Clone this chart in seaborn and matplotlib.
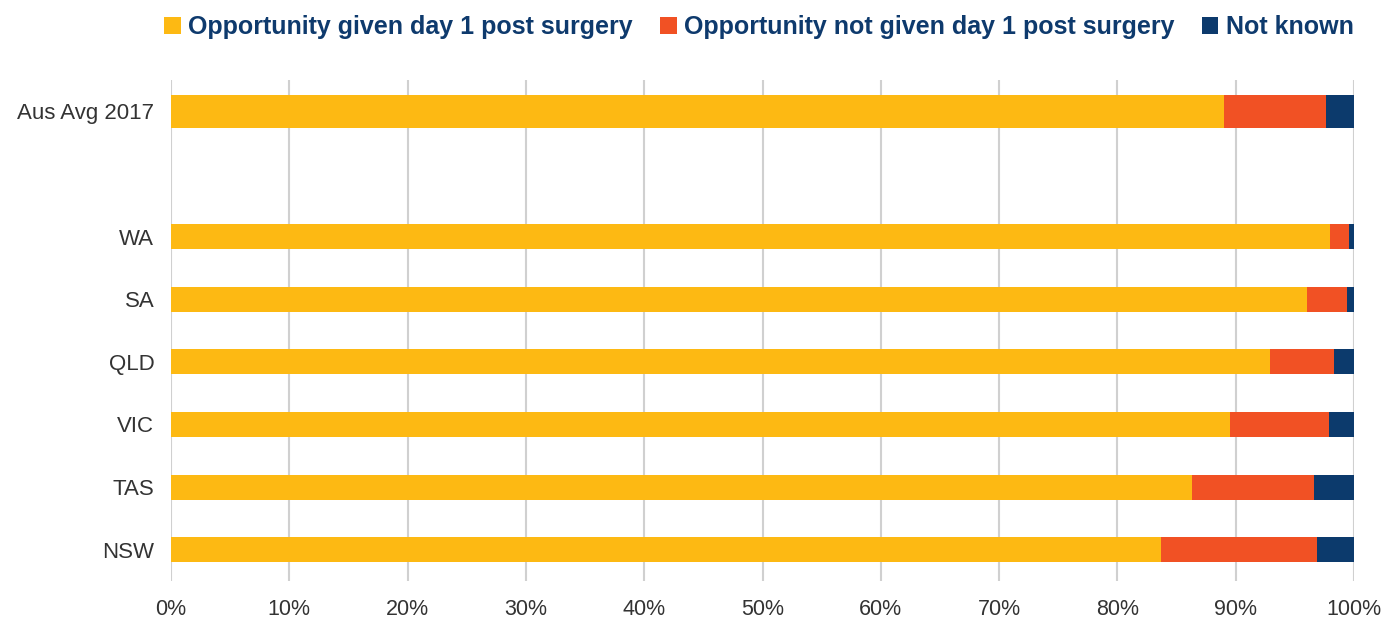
import matplotlib
matplotlib.use("Agg")
import matplotlib.pyplot as plt
import seaborn as sns
import pandas as pd
from matplotlib.patches import Patch
from matplotlib.ticker import PercentFormatter

sns.set_theme(style="white")
plt.rcParams["font.family"] = ["Liberation Sans", "DejaVu Sans"]

# Rows top to bottom; the empty label leaves a gap under the national average
categories = ["Aus Avg 2017", "", "WA", "SA", "QLD", "VIC", "TAS", "NSW"]
regions = ["Aus Avg 2017", "WA", "SA", "QLD", "VIC", "TAS", "NSW"]
given = [89.0, 98.0, 96.0, 92.9, 89.5, 86.3, 83.7]
not_given = [8.6, 1.6, 3.4, 5.4, 8.4, 10.3, 13.2]
not_known = [2.4, 0.4, 0.6, 1.7, 2.1, 3.4, 3.1]

series = ["Opportunity given day 1 post surgery",
          "Opportunity not given day 1 post surgery",
          "Not known"]
colors = ["#FDB913", "#F15124", "#0C3A6C"]
text_color = "#0E3A6D"

df = pd.DataFrame({"region": regions, "given": given,
                   "not_given": not_given, "not_known": not_known})
df["c1"] = df["given"]
df["c2"] = df["given"] + df["not_given"]
df["c3"] = df["c2"] + df["not_known"]

fig = plt.figure(figsize=(13.86, 6.19), dpi=100)
ax = fig.add_axes([171 / 1386, 1 - 581 / 619, 1183 / 1386, 501 / 619])

avg = df[df["region"] == "Aus Avg 2017"]
states = df[df["region"] != "Aus Avg 2017"]

# Stacked bars: draw cumulative totals from longest to shortest
for col, color in zip(["c3", "c2", "c1"], colors[::-1]):
    sns.barplot(data=avg, x=col, y="region", order=categories, orient="h",
                color=color, width=0.53, saturation=1, ax=ax, linewidth=0)
    sns.barplot(data=states, x=col, y="region", order=categories, orient="h",
                color=color, width=0.40, saturation=1, ax=ax, linewidth=0)

ax.set_xlim(0, 100)
ax.set_ylim(len(categories) - 0.5, -0.5)
ax.set_xticks(range(0, 101, 10))
ax.xaxis.set_major_formatter(PercentFormatter(decimals=0))
ax.grid(axis="x", color="#D0D0D0", linewidth=1.5)
ax.grid(axis="y", visible=False)
ax.set_axisbelow(True)
for s in ax.spines.values():
    s.set_visible(False)
ax.set_xlabel("")
ax.set_ylabel("")
ax.tick_params(axis="x", length=0, pad=13, labelsize=15.5, labelcolor="#333333")
ax.tick_params(axis="y", length=0, pad=12, labelsize=16, labelcolor="#333333")

handles = [Patch(facecolor=c, edgecolor="none") for c in colors]
leg = fig.legend(handles, series, loc="center", bbox_to_anchor=(759 / 1386, 1 - 27 / 619),
                 ncol=3, frameon=False, handlelength=0.65, handleheight=0.65,
                 handletextpad=0.3, columnspacing=1.1,
                 prop={"weight": "bold", "size": 18})
for t in leg.get_texts():
    t.set_color(text_color)

fig.savefig("out.png", dpi=100)
